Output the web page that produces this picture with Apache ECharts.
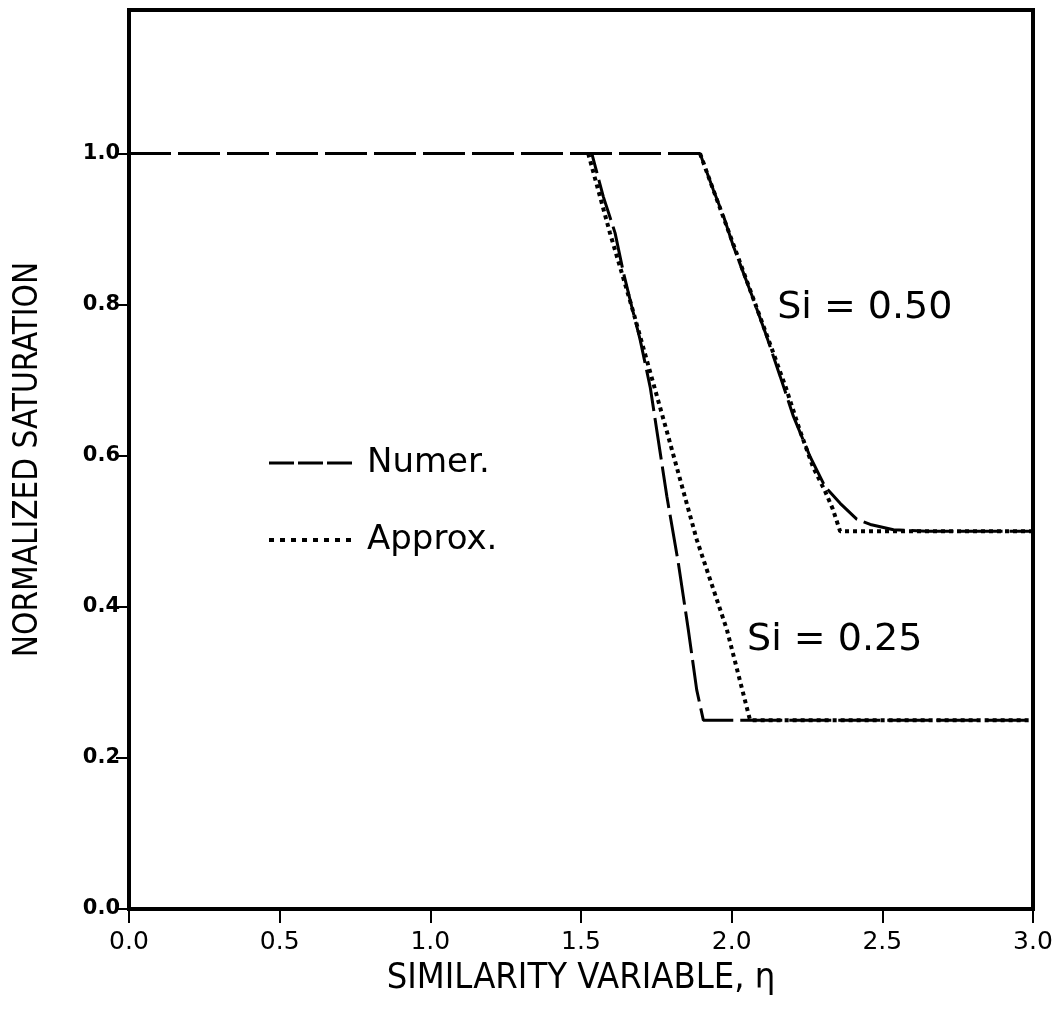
<!DOCTYPE html>
<html>
<head>
<meta charset="utf-8">
<script src="https://cdn.jsdelivr.net/npm/echarts@6/dist/echarts.min.js"></script>
<style>
  html, body { margin: 0; padding: 0; background: #fff; }
  #chart { width: 1064px; height: 1010px; }
</style>
</head>
<body>
<div id="chart"></div>
<script>
// 刻度
const xTicks = [0, 0.5, 1.0, 1.5, 2.0, 2.5, 3.0]
const yTicks = [0, 0.2, 0.4, 0.6, 0.8, 1.0]

// 数值解 (Numer.) 与近似解 (Approx.)，[eta, S]
const numer050 = [[0, 1], [1.895, 1], [1.939, 0.952], [1.973, 0.917], [2.006, 0.877], [2.039, 0.842],
  [2.072, 0.807], [2.116, 0.758], [2.161, 0.705], [2.205, 0.652], [2.26, 0.599], [2.31, 0.559],
  [2.36, 0.537], [2.415, 0.516], [2.46, 0.509], [2.537, 0.502], [2.647, 0.5], [3.0, 0.5]]
const approx050 = [[1.895, 1], [1.95, 0.94], [2.01, 0.875], [2.07, 0.81], [2.13, 0.745], [2.18, 0.69],
  [2.225, 0.635], [2.27, 0.585], [2.31, 0.553], [2.335, 0.53], [2.36, 0.5], [3.0, 0.5]]
const numer025 = [[0, 1], [1.536, 1], [1.574, 0.943], [1.613, 0.895], [1.641, 0.842], [1.668, 0.798],
  [1.696, 0.754], [1.73, 0.69], [1.785, 0.546], [1.823, 0.458], [1.856, 0.37], [1.884, 0.29],
  [1.906, 0.25], [3.0, 0.25]]
const approx025 = [[1.524, 1], [1.596, 0.895], [1.668, 0.798], [1.785, 0.632], [1.884, 0.489],
  [1.984, 0.37], [2.061, 0.25], [3.0, 0.25]]

// 曲线标注
const noteTexts = ['Si = 0.50', 'Si = 0.25']
const noteAt = [[2.151, 0.796], [2.051, 0.356]]

const numerDash = [42, 7]
const dotDash = [4, 4]

let chart = echarts.init(document.getElementById('chart'))

const titleFont = "'DejaVu Sans Condensed', 'Liberation Sans Narrow', 'DejaVu Sans', sans-serif"

function lineSeries(name, data, dash, width) {
  return {
    name: name,
    type: 'line',
    data: data,
    symbol: 'none',
    silent: true,
    animation: false,
    itemStyle: { color: '#000' },
    lineStyle: { color: '#000', width: width, type: dash, cap: 'butt' }
  }
}

let option = {
  backgroundColor: '#fff',
  animation: false,
  grid: {
    left: 129, right: 31, top: 10, bottom: 101,
    show: true, borderColor: '#000', borderWidth: 4, backgroundColor: 'transparent'
  },
  legend: {
    orient: 'vertical',
    left: 267, top: 446, padding: 0,
    itemWidth: 83, itemHeight: 30, itemGap: 43,
    selectedMode: false,
    itemStyle: { opacity: 0 },
    data: [
      { name: 'Numer.', lineStyle: { type: [25, 4], width: 3 } },
      { name: 'Approx.', lineStyle: { type: [5, 6], width: 4 } }
    ],
    textStyle: { color: '#000', fontSize: 34, fontFamily: 'DejaVu Sans', padding: [0, 0, 0, 10] }
  },
  xAxis: {
    type: 'value',
    min: 0, max: 3.0, interval: 0.5,
    name: 'SIMILARITY VARIABLE, η',
    nameLocation: 'middle',
    nameGap: 52,
    nameTextStyle: { color: '#000', fontSize: 36, fontFamily: titleFont },
    axisLine: { show: false },
    axisTick: { show: true, inside: false, length: 14, lineStyle: { color: '#000', width: 2 }, customValues: xTicks },
    axisLabel: {
      color: '#000', fontSize: 25, fontFamily: 'DejaVu Sans', margin: 21,
      customValues: xTicks,
      formatter: function (v) { return v.toFixed(1) }
    },
    splitLine: { show: false }
  },
  yAxis: {
    type: 'value',
    min: 0, max: 1.19, interval: 0.2,
    name: 'NORMALIZED SATURATION',
    nameLocation: 'middle',
    nameGap: 84,
    nameTextStyle: { color: '#000', fontSize: 33, fontFamily: titleFont },
    axisLine: { show: false },
    axisTick: { show: true, inside: false, length: 13, lineStyle: { color: '#000', width: 2 }, customValues: yTicks },
    axisLabel: {
      color: '#000', fontSize: 21, fontWeight: 'bold', fontFamily: 'DejaVu Sans', margin: 9,
      customValues: yTicks,
      formatter: function (v) { return v.toFixed(1) }
    },
    splitLine: { show: false }
  },
  series: [
    lineSeries('Numer.', numer050, numerDash, 3),
    lineSeries('Numer.', numer025, numerDash, 3),
    lineSeries('Approx.', approx050, dotDash, 4),
    lineSeries('Approx.', approx025, dotDash, 4)
  ]
}

chart.setOption(option)

// 标注文字按数据坐标换算成像素位置
let notes = noteTexts.map(function (t, i) {
  let p = chart.convertToPixel({ gridIndex: 0 }, noteAt[i])
  return {
    type: 'text',
    x: p[0], y: p[1],
    silent: true,
    style: { text: t, fill: '#000', font: "38px 'DejaVu Sans'", textAlign: 'left', textVerticalAlign: 'middle' }
  }
})
chart.setOption({ graphic: notes })
</script>
</body>
</html>
